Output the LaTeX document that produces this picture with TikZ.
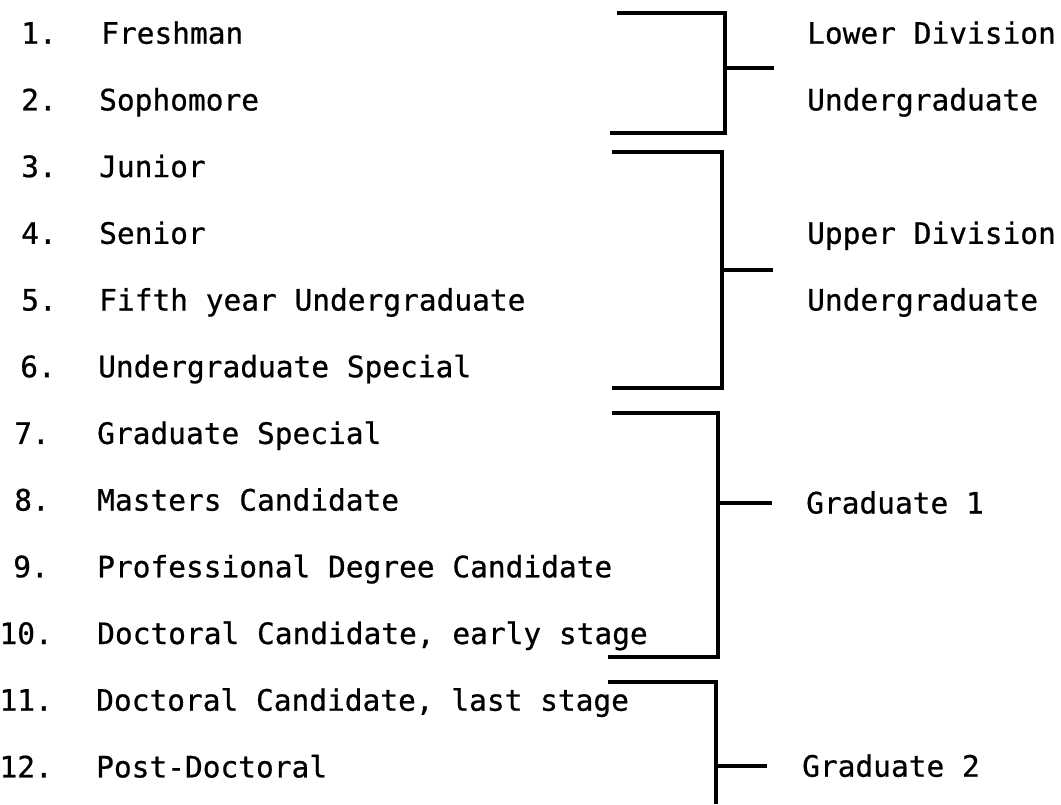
\documentclass[tikz,border=0pt]{standalone}
\usepackage{fontspec}
\setmonofont[FakeBold=0.7]{DejaVu Sans Mono}
\tikzset{
  typed/.style={inner sep=0pt, font=\ttfamily\fontsize{29.5}{30}\selectfont},
  entry/.style={typed, anchor=base west},
  entrynum/.style={typed, anchor=base east},
  group/.style={typed, anchor=base west},
  bracket/.style={line width=3.2pt, line join=miter},
}
\begin{document}
\begin{tikzpicture}[x=1pt,y=-1pt]
  \useasboundingbox (0,0) rectangle (1061,804);

  % class levels
  \node[entrynum] (n1)  at (57,43.7)  {1.};
  \node[entry]    (e1)  at (101,43.7) {Freshman};
  \node[entrynum] (n2)  at (57,110.4) {2.};
  \node[entry]    (e2)  at (99,110.4) {Sophomore};
  \node[entrynum] (n3)  at (57,177.1) {3.};
  \node[entry]    (e3)  at (99,177.1) {Junior};
  \node[entrynum] (n4)  at (57,243.8) {4.};
  \node[entry]    (e4)  at (99,243.8) {Senior};
  \node[entrynum] (n5)  at (57,310.5) {5.};
  \node[entry]    (e5)  at (99,310.5) {Fifth year Undergraduate};
  \node[entrynum] (n6)  at (56,377.2) {6.};
  \node[entry]    (e6)  at (98,377.2) {Undergraduate Special};
  \node[entrynum] (n7)  at (50,443.9) {7.};
  \node[entry]    (e7)  at (97,443.9) {Graduate Special};
  \node[entrynum] (n8)  at (50,510.6) {8.};
  \node[entry]    (e8)  at (97,510.6) {Masters Candidate};
  \node[entrynum] (n9)  at (49,577.3) {9.};
  \node[entry]    (e9)  at (97,577.3) {Professional Degree Candidate};
  \node[entrynum] (n10) at (53,644.0) {10.};
  \node[entry]    (e10) at (97,644.0) {Doctoral Candidate, early stage};
  \node[entrynum] (n11) at (53,710.7) {11.};
  \node[entry]    (e11) at (96,710.7) {Doctoral Candidate, last stage};
  \node[entrynum] (n12) at (53,777.4) {12.};
  \node[entry]    (e12) at (96,777.4) {Post-Doctoral};

  % groups
  \node[group] (lowdiv) at (807,43.7)  {Lower Division};
  \node[group] (lowug)  at (807,110.4) {Undergraduate};
  \node[group] (updiv)  at (807,243.8) {Upper Division};
  \node[group] (upug)   at (807,310.5) {Undergraduate};
  \node[group] (grad1)  at (806,513.5) {Graduate 1};
  \node[group] (grad2)  at (802,776.7) {Graduate 2};

  % brackets
  \coordinate (b1a) at (617,13);  \coordinate (b1b) at (725,13);
  \coordinate (b1c) at (725,133); \coordinate (b1d) at (610,133);
  \coordinate (b1m) at (725,68);  \coordinate (b1t) at (774,68);
  \draw[bracket] (b1a) -- (b1b) -- (b1c) -- (b1d);
  \draw[bracket] (b1m) -- (b1t);

  \coordinate (b2a) at (612,152); \coordinate (b2b) at (722,152);
  \coordinate (b2c) at (722,388); \coordinate (b2d) at (612,388);
  \coordinate (b2m) at (722,270); \coordinate (b2t) at (773,270);
  \draw[bracket] (b2a) -- (b2b) -- (b2c) -- (b2d);
  \draw[bracket] (b2m) -- (b2t);

  \coordinate (b3a) at (612,413); \coordinate (b3b) at (718,413);
  \coordinate (b3c) at (718,657); \coordinate (b3d) at (608,657);
  \coordinate (b3m) at (718,503); \coordinate (b3t) at (772,503);
  \draw[bracket] (b3a) -- (b3b) -- (b3c) -- (b3d);
  \draw[bracket] (b3m) -- (b3t);

  \coordinate (b4a) at (608,682); \coordinate (b4b) at (716,682);
  \coordinate (b4c) at (716,804);
  \coordinate (b4m) at (716,766); \coordinate (b4t) at (767,766);
  \draw[bracket] (b4a) -- (b4b) -- (b4c);
  \draw[bracket] (b4m) -- (b4t);
\end{tikzpicture}
\end{document}
